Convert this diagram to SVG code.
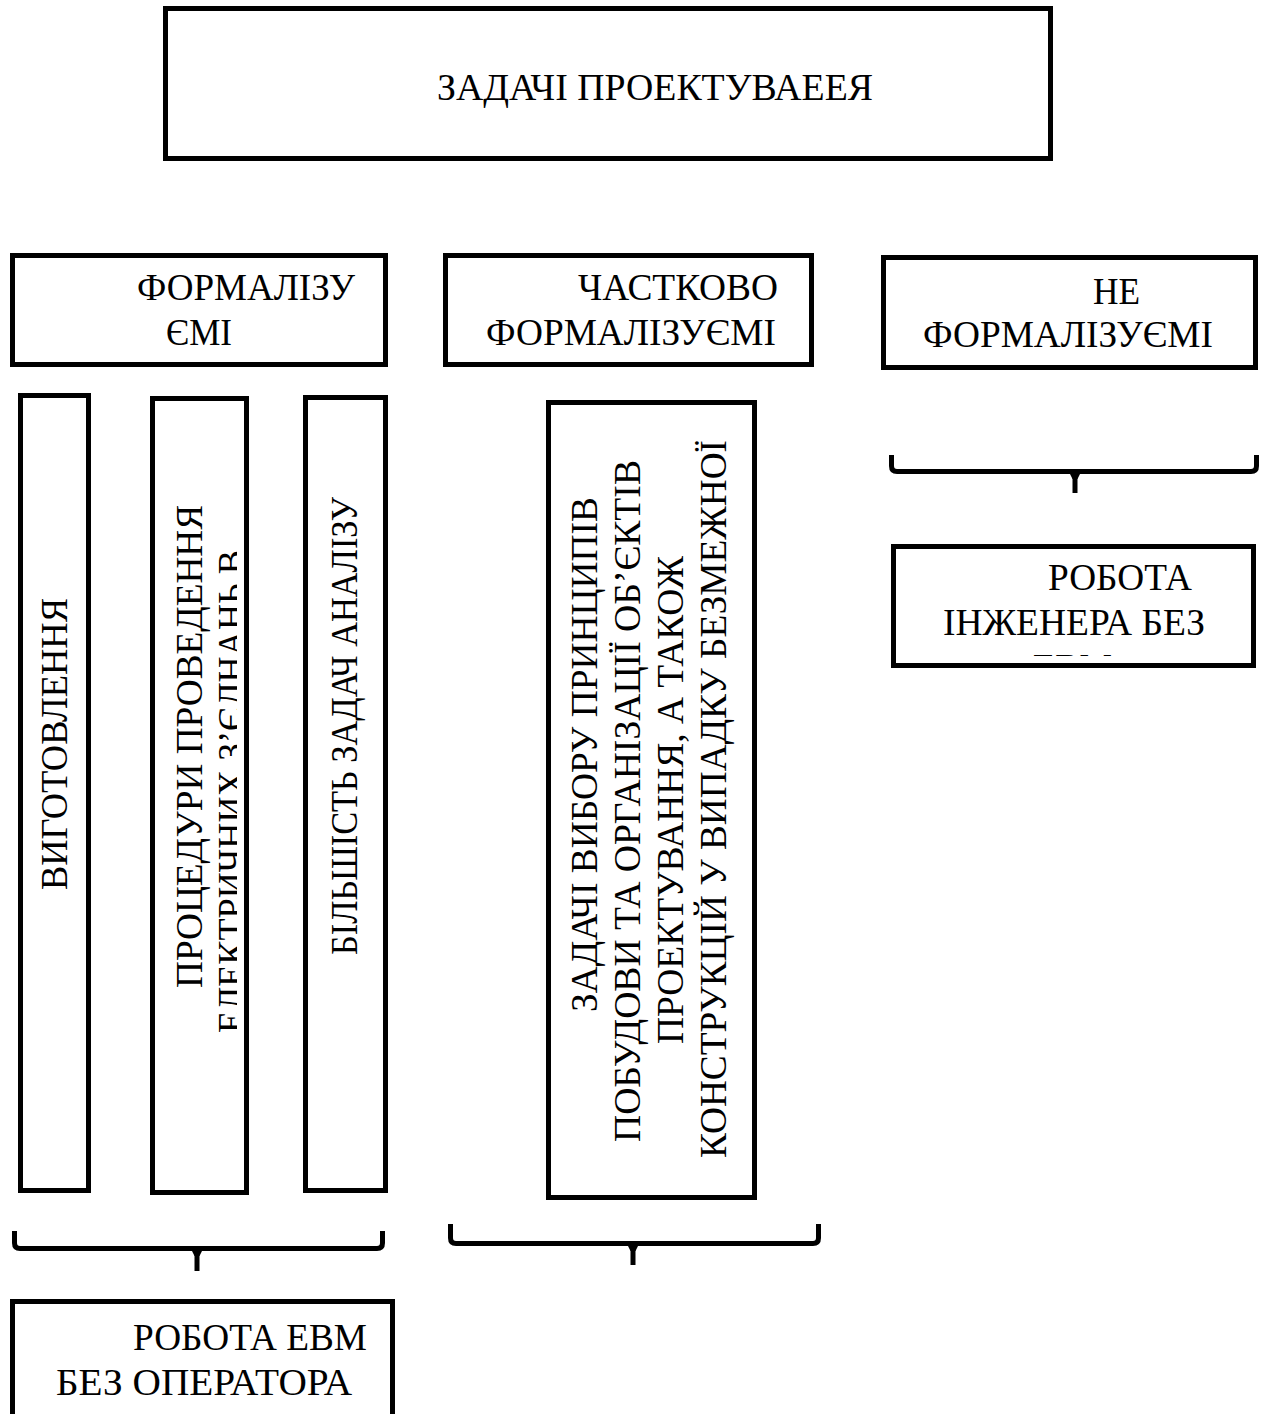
<svg xmlns="http://www.w3.org/2000/svg" width="1267" height="1414" viewBox="0 0 1267 1414">
  <style>
    .box { fill: #ffffff; stroke: #000000; stroke-width: 5; }
    .lbl { font-family: "Liberation Serif", "Times New Roman", serif; font-size: 37px; fill: #000000; }
    .brace { fill: none; stroke: #000000; stroke-width: 5; stroke-linecap: butt; stroke-linejoin: round; }
    .flare { fill: #000000; }
  </style>
  <defs>
    <clipPath id="clip-proc" clipPathUnits="userSpaceOnUse">
      <rect x="150" y="396" width="87" height="800"/>
    </clipPath>
    <clipPath id="clip-eng" clipPathUnits="userSpaceOnUse">
      <rect x="891" y="544" width="365" height="112"/>
    </clipPath>
  </defs>
  <rect width="1267" height="1414" fill="#ffffff"/>

  <!-- root task -->
  <g id="node-root">
    <rect class="box" x="165.5" y="8.5" width="885" height="150"/>
    <text class="lbl" x="437" y="100" textLength="436" lengthAdjust="spacingAndGlyphs">ЗАДАЧІ ПРОЕКТУВАЕЕЯ</text>
  </g>

  <!-- category headers -->
  <g id="node-formal">
    <rect class="box" x="12.5" y="255.5" width="373" height="109"/>
    <text class="lbl" x="137" y="300" textLength="218" lengthAdjust="spacingAndGlyphs">ФОРМАЛІЗУ</text>
    <text class="lbl" x="166" y="345" textLength="66" lengthAdjust="spacingAndGlyphs">ЄМІ</text>
  </g>
  <g id="node-partial">
    <rect class="box" x="445.5" y="255.5" width="366" height="109"/>
    <text class="lbl" x="578" y="300" textLength="200" lengthAdjust="spacingAndGlyphs">ЧАСТКОВО</text>
    <text class="lbl" x="486" y="345" textLength="290" lengthAdjust="spacingAndGlyphs">ФОРМАЛІЗУЄМІ</text>
  </g>
  <g id="node-nonformal">
    <rect class="box" x="883.5" y="257.5" width="372" height="110"/>
    <text class="lbl" x="1093" y="304" textLength="47" lengthAdjust="spacingAndGlyphs">НЕ</text>
    <text class="lbl" x="923" y="347" textLength="290" lengthAdjust="spacingAndGlyphs">ФОРМАЛІЗУЄМІ</text>
  </g>

  <!-- formalisable tasks (vertical) -->
  <g id="node-manufacture">
    <rect class="box" x="20.5" y="395.5" width="68" height="795"/>
    <text class="lbl" transform="translate(67 890) rotate(-90)" textLength="292" lengthAdjust="spacingAndGlyphs">ВИГОТОВЛЕННЯ</text>
  </g>
  <g id="node-procedures">
    <rect class="box" x="152.5" y="398.5" width="94" height="794"/>
    <text class="lbl" transform="translate(202 988) rotate(-90)" textLength="483" lengthAdjust="spacingAndGlyphs">ПРОЦЕДУРИ ПРОВЕДЕННЯ</text>
    <g clip-path="url(#clip-proc)">
      <text class="lbl" transform="translate(244 1033) rotate(-90)" textLength="483" lengthAdjust="spacingAndGlyphs">ЕЛЕКТРИЧНИХ З’ЄДНАНЬ В</text>
    </g>
  </g>
  <g id="node-analysis">
    <rect class="box" x="305.5" y="397.5" width="80" height="793"/>
    <text class="lbl" transform="translate(357 955) rotate(-90)" textLength="458" lengthAdjust="spacingAndGlyphs">БІЛЬШІСТЬ ЗАДАЧ АНАЛІЗУ</text>
  </g>

  <!-- partially formalisable task (vertical) -->
  <g id="node-principles">
    <rect class="box" x="548.5" y="402.5" width="206" height="795"/>
    <text class="lbl" transform="translate(597 1012) rotate(-90)" textLength="515" lengthAdjust="spacingAndGlyphs">ЗАДАЧІ ВИБОРУ ПРИНЦИПІВ</text>
    <text class="lbl" transform="translate(640 1142) rotate(-90)" textLength="682" lengthAdjust="spacingAndGlyphs">ПОБУДОВИ ТА ОРГАНІЗАЦІЇ ОБ’ЄКТІВ</text>
    <text class="lbl" transform="translate(683 1044) rotate(-90)" textLength="488" lengthAdjust="spacingAndGlyphs">ПРОЕКТУВАННЯ, А ТАКОЖ</text>
    <text class="lbl" transform="translate(726 1158) rotate(-90)" textLength="718" lengthAdjust="spacingAndGlyphs">КОНСТРУКЦІЙ У ВИПАДКУ БЕЗМЕЖНОЇ</text>
  </g>

  <!-- results -->
  <g id="node-engineer">
    <rect class="box" x="893.5" y="546.5" width="360" height="119"/>
    <text class="lbl" x="1048" y="590" textLength="144" lengthAdjust="spacingAndGlyphs">РОБОТА</text>
    <text class="lbl" x="943" y="635" textLength="262" lengthAdjust="spacingAndGlyphs">ІНЖЕНЕРА БЕЗ</text>
    <g clip-path="url(#clip-eng)">
      <text class="lbl" x="1033" y="680" textLength="79" lengthAdjust="spacingAndGlyphs">ЕВМ</text>
    </g>
  </g>
  <g id="node-computer">
    <rect class="box" x="12.5" y="1301.5" width="380" height="150"/>
    <text class="lbl" x="133" y="1350" textLength="234" lengthAdjust="spacingAndGlyphs">РОБОТА ЕВМ</text>
    <text class="lbl" x="56" y="1395" textLength="296" lengthAdjust="spacingAndGlyphs">БЕЗ ОПЕРАТОРА</text>
  </g>

  <!-- grouping braces -->
  <g id="connectors">
    <g id="brace-formal">
      <path class="brace" d="M14.5,1231 V1243 Q14.5,1248.5 20,1248.5 H377 Q382.5,1248.5 382.5,1243 V1231"/>
      <path class="brace" d="M197,1248 V1271"/>
      <polygon class="flare" points="190,1247 204,1247 199.5,1256 194.5,1256"/>
    </g>
    <g id="brace-partial">
      <path class="brace" d="M450.5,1224 V1238 Q450.5,1243.5 456,1243.5 H813 Q818.5,1243.5 818.5,1238 V1224"/>
      <path class="brace" d="M633,1243 V1265"/>
      <polygon class="flare" points="626,1242 640,1242 635.5,1251 630.5,1251"/>
    </g>
    <g id="brace-nonformal">
      <path class="brace" d="M891.5,455 V466 Q891.5,471.5 897,471.5 H1251 Q1256.5,471.5 1256.5,466 V455"/>
      <path class="brace" d="M1075,471 V493"/>
      <polygon class="flare" points="1068,470 1082,470 1077.5,479 1072.5,479"/>
    </g>
  </g>
</svg>
